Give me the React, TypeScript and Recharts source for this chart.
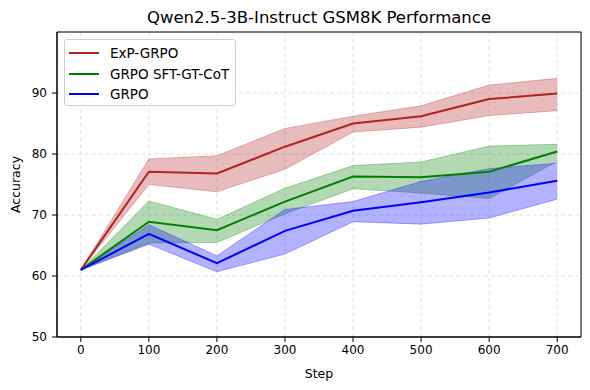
import { Area, ComposedChart, Label, Line, ReferenceArea, CartesianGrid, XAxis, YAxis } from "recharts";

const steps = [0, 100, 200, 300, 400, 500, 600, 700];

const expMean = [61, 77.1, 76.8, 81.2, 85.0, 86.2, 89.0, 89.9];
const expLo = [61, 75.0, 73.8, 77.5, 83.6, 84.4, 86.3, 87.1];
const expHi = [61, 79.2, 79.7, 84.2, 86.2, 87.9, 91.3, 92.4];

const sftMean = [61, 68.9, 67.5, 72.2, 76.3, 76.2, 77.1, 80.4];
const sftLo = [61, 65.4, 65.5, 70.2, 74.3, 73.6, 72.7, 78.8];
const sftHi = [61, 72.3, 69.3, 74.4, 78.1, 78.7, 81.3, 81.6];

const grpoMean = [61, 66.9, 62.1, 67.4, 70.7, 72.1, 73.7, 75.6];
const grpoLo = [61, 65.2, 60.7, 63.6, 68.9, 68.5, 69.5, 72.6];
const grpoHi = [61, 68.4, 63.3, 70.9, 72.2, 75.5, 77.6, 78.5];

const xTicks = [0, 100, 200, 300, 400, 500, 600, 700];
const yTicks = [50, 60, 70, 80, 90];

const series = [
    { name: "ExP-GRPO", color: "#b22222", mean: expMean, lo: expLo, hi: expHi },
    { name: "GRPO SFT-GT-CoT", color: "#008000", mean: sftMean, lo: sftLo, hi: sftHi },
    { name: "GRPO", color: "#0000ff", mean: grpoMean, lo: grpoLo, hi: grpoHi },
];

const data = steps.map((step, i) => {
    const row: any = { step };
    series.forEach((s, k) => {
        row["m" + k] = s.mean[i];
        row["r" + k] = [s.lo[i], s.hi[i]];
    });
    return row;
});

const font = "'DejaVu Sans', sans-serif";
const tickStyle = { fontSize: 12, fill: "#000", fontFamily: font };

export default function App() {
    return (
        <div style={{ position: "absolute", left: 0, top: 0, width: 590, height: 390, background: "#fff", fontFamily: font }}>
            <div style={{ position: "absolute", left: 57, width: 524, top: 8, textAlign: "center", fontSize: 16.5, color: "#000" }}>
                Qwen2.5-3B-Instruct GSM8K Performance
            </div>
            <ComposedChart
                width={590}
                height={390}
                data={data}
                margin={{ top: 32, right: 9, left: 0, bottom: 0 }}
            >
                <CartesianGrid stroke="#e0e0e0" strokeDasharray="4 3" />
                <XAxis
                    dataKey="step"
                    type="number"
                    domain={[-35, 735]}
                    ticks={xTicks}
                    height={53}
                    tickSize={5}
                    tickMargin={3}
                    tick={tickStyle}
                    stroke="#000"
                    allowDataOverflow
                >
                    <Label value="Step" position="insideBottom" offset={12} style={{ fontSize: 12.5, fill: "#000", fontFamily: font }} />
                </XAxis>
                <YAxis
                    type="number"
                    domain={[50, 100]}
                    ticks={yTicks}
                    width={57}
                    tickSize={5}
                    tickMargin={5}
                    tick={tickStyle}
                    stroke="#000"
                    allowDataOverflow
                >
                    <Label value="Accuracy" angle={-90} position="insideLeft" offset={16} style={{ fontSize: 12.5, fill: "#000", fontFamily: font, textAnchor: "middle" }} />
                </YAxis>
                {series.map((s, k) => [
                    <Area
                        key={"a" + k}
                        dataKey={"r" + k}
                        type="linear"
                        fill={s.color}
                        fillOpacity={0.3}
                        stroke={s.color}
                        strokeOpacity={0.3}
                        strokeWidth={1}
                        isAnimationActive={false}
                        activeDot={false}
                    />,
                    <Line
                        key={"l" + k}
                        dataKey={"m" + k}
                        type="linear"
                        stroke={s.color}
                        strokeWidth={2}
                        dot={false}
                        activeDot={false}
                        isAnimationActive={false}
                    />,
                ])}
                <ReferenceArea x1={-35} x2={735} y1={50} y2={100} fill="none" stroke="#000" strokeWidth={1} ifOverflow="visible" />
            </ComposedChart>
            <div style={{
                position: "absolute", left: 64, top: 39, width: 170, height: 65,
                border: "1px solid #d0d0d0", borderRadius: 3, background: "rgba(255,255,255,0.8)",
                fontSize: 13.5, color: "#000",
            }}>
                {series.map((s, k) => (
                    <div key={k} style={{ position: "absolute", left: 4, top: 3 + k * 20.5, height: 20, display: "flex", alignItems: "center" }}>
                        <div style={{ width: 30, height: 2, background: s.color, marginRight: 11 }} />
                        <span>{s.name}</span>
                    </div>
                ))}
            </div>
        </div>
    );
}
